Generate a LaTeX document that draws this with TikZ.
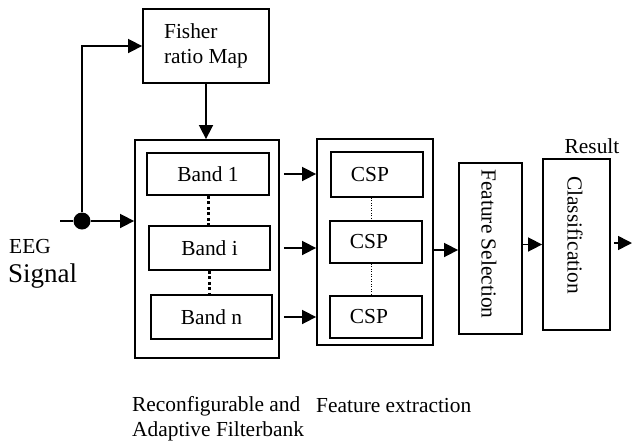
\documentclass[tikz,border=0pt]{standalone}
\usepackage{fontspec}
\setmainfont{Liberation Serif}
\usetikzlibrary{arrows.meta}
\begin{document}
\begin{tikzpicture}[x=1pt,y=-1pt,
  every node/.style={font=\fontsize{21.4}{25}\selectfont, inner sep=0pt},
  blk/.style={draw, line width=1.8pt},
  arr/.style={-{Triangle[length=14pt,width=14pt]}, line width=1.6pt},
  thickdots/.style={line width=3pt, dash pattern=on 3pt off 2.5pt},
  thindots/.style={line width=0.8pt, dash pattern=on 1pt off 1.5pt}
]
\useasboundingbox (0,0) rectangle (632,445);

% boxes
\node[blk, minimum width=126pt, minimum height=74pt, align=left] (fisher) at (206,46) {Fisher\\ratio Map};
\node[blk, minimum width=144pt, minimum height=218pt] (fb) at (207,249) {};
\node[blk, minimum width=122pt, minimum height=42pt] (band1) at (208,174) {Band 1};
\node[blk, minimum width=121pt, minimum height=44pt] (bandi) at (209.5,248) {Band i};
\node[blk, minimum width=121pt, minimum height=44pt] (bandn) at (211.5,317) {Band n};

\node[blk, minimum width=116pt, minimum height=206pt] (cspbox) at (375,242) {};
\node[blk, minimum width=92pt, minimum height=45pt] (csp1) at (377,174.5) {};
\node[blk, minimum width=92pt, minimum height=42pt] (csp2) at (376,242) {};
\node[blk, minimum width=92pt, minimum height=42pt] (csp3) at (376,317) {};
\node (csp1t) at (370,174.5) {CSP};
\node (csp2t) at (369,242) {CSP};
\node (csp3t) at (369,317) {CSP};

\node[blk, minimum width=63pt, minimum height=171pt] (fs) at (490.5,248.5) {};
\node[rotate=-90] (fst) at (489,244) {Feature Selection};
\node[blk, minimum width=67pt, minimum height=171pt] (cls) at (576.5,244.5) {};
\node[rotate=-90] (clst) at (575,235) {Classification};
\node (result) at (592,146) {Result};

% dotted links
\draw[thickdots] (band1.south) -- (band1.south |- bandi.north);
\draw[thickdots] (bandi.south -| bandn.north) ++(-2,0) -- ([xshift=-2pt]bandn.north);
\draw[thindots] (csp1.south -| 371,0) -- (csp2.north -| 371,0);
\draw[thindots] (csp2.south -| 371,0) -- (csp3.north -| 371,0);

% input
\coordinate (in) at (60,221);
\node[circle, fill, minimum size=17pt] (dot) at (82,221) {};
\node[anchor=west] (eeg) at (9,247) {EEG};
\node[anchor=west, font=\fontsize{27}{30}\selectfont] (sig) at (8,276) {Signal};
\draw[line width=1.6pt] (in) -- (dot);
\draw[arr] (dot) -- (dot -| fb.west);
\draw[arr] (dot) |- (fisher.west);
\draw[arr] (fisher.south) -- (fisher.south |- fb.north);

% band -> csp
\draw[arr] (band1 -| fb.east) ++(4,0) -- (band1 -| cspbox.west);
\draw[arr] (bandi -| fb.east) ++(4,0) -- (bandi -| cspbox.west);
\draw[arr] (bandn -| fb.east) ++(4,0) -- (bandn -| cspbox.west);

% csp -> fs -> cls -> out
\path (fs.west) ++(0,1.5) coordinate (fsin);
\draw[arr] (fsin -| cspbox.east) -- (fsin);
\draw[arr] (cls.west -| fs.east) -- (cls.west);
\coordinate (out) at (632,243);
\draw[arr] (cls.east |- out) ++(3,0) -- (out);

% bottom labels
\node[anchor=west, align=left] (fblabel) at (132,418.5) {Reconfigurable and\\Adaptive Filterbank};
\node[anchor=west] (felabel) at (316,406) {Feature extraction};
\end{tikzpicture}
\end{document}
